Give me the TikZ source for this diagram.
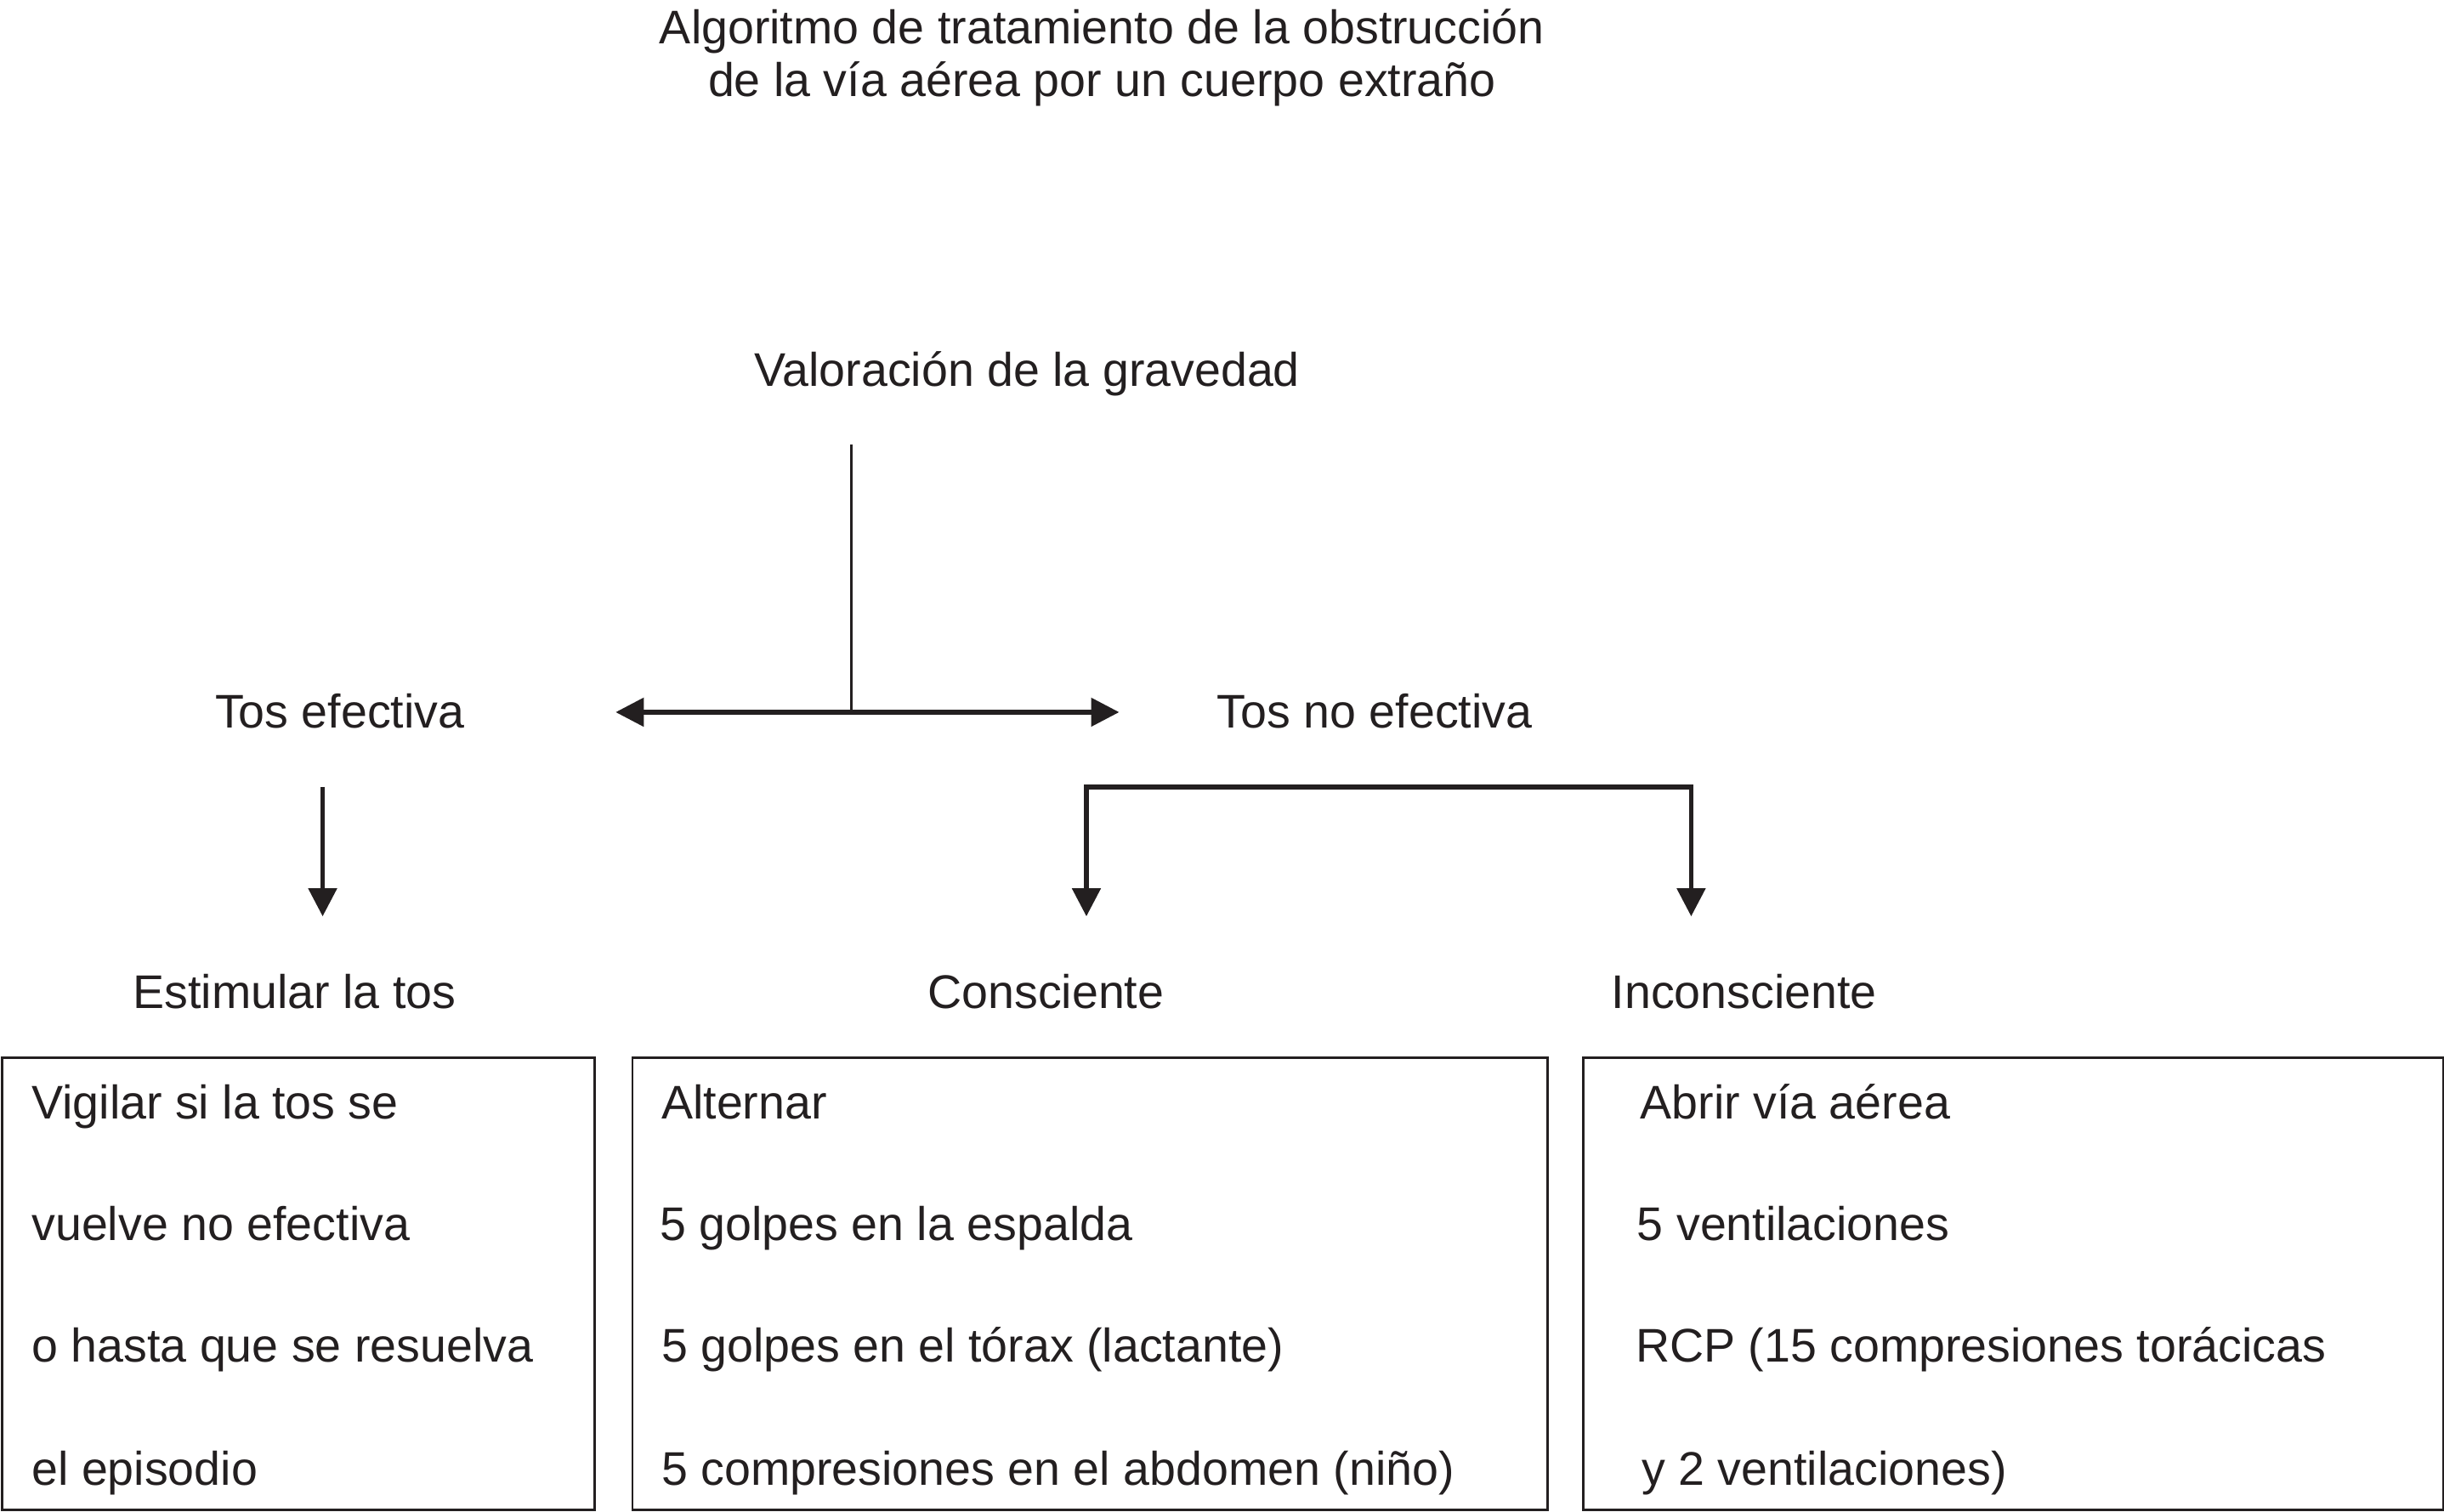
\documentclass[tikz,border=0pt]{standalone}
\usepackage{fontspec}
\setmainfont{Liberation Sans}
\usetikzlibrary{arrows.meta}
\definecolor{ink}{HTML}{231F20}
\begin{document}
\begin{tikzpicture}[x=0.5pt,y=-0.5pt,
  every node/.style={font=\fontsize{15.15pt}{18pt}\selectfont, inner sep=0pt, text=ink},
  lbl/.style={anchor=base},
  bt/.style={anchor=base west},
  tip/.style={-{Triangle[length=9pt,width=9pt]}},
  tips/.style={{Triangle[length=9pt,width=9pt]}-{Triangle[length=9pt,width=9pt]}},
  conn/.style={draw=ink, line width=1.4pt},
  thin/.style={draw=ink, line width=0.8pt},
  box/.style={draw=ink, line width=0.75pt, anchor=north west, minimum width=#1, minimum height=145pt}]
\useasboundingbox (0,0) rectangle (1568,970);

\node[lbl] (t1) at (707,28) {Algoritmo de tratamiento de la obstrucción};
\node[lbl] (t2) at (707,62) {de la vía aérea por un cuerpo extraño};
\node[lbl] (val) at (659,248) {Valoración de la gravedad};
\node[lbl] (te) at (218,467) {Tos efectiva};
\node[lbl] (tne) at (882,467) {Tos no efectiva};
\node[lbl] (est) at (189,647) {Estimular la tos};
\node[lbl] (con) at (671,647) {Consciente};
\node[lbl] (inc) at (1119,647) {Inconsciente};

\coordinate (vtop) at (546,285);
\coordinate (j) at (546,457);
\coordinate (al) at (395,457);
\coordinate (ar) at (718,457);
\coordinate (ea) at (207,505);
\coordinate (eb) at (207,588);
\coordinate (ca) at (697,588);
\coordinate (cb) at (697,505);
\coordinate (cc) at (1085,505);
\coordinate (cd) at (1085,588);

\draw[thin] (vtop) -- (j);
\draw[conn,tips] (al) -- (ar);
\draw[conn,tip] (ea) -- (eb);
\draw[conn,tips] (ca) -- (cb) -- (cc) -- (cd);

\node[box=190pt] (b1) at (0.8,678) {};
\node[box=293.5pt] (b2) at (405,678) {};
\node[box=276pt] (b3) at (1015,678) {};

\node[bt] (b1l1) at (20,718) {Vigilar si la tos se};
\node[bt] (b1l2) at (20,796) {vuelve no efectiva};
\node[bt] (b1l3) at (20,874) {o hasta que se resuelva};
\node[bt] (b1l4) at (20,953) {el episodio};

\node[bt] (b2l1) at (424,718) {Alternar};
\node[bt] (b2l2) at (423,796) {5 golpes en la espalda};
\node[bt] (b2l3) at (424,874) {5 golpes en el tórax (lactante)};
\node[bt] (b2l4) at (424,953) {5 compresiones en el abdomen (niño)};

\node[bt] (b3l1) at (1052,718) {Abrir vía aérea};
\node[bt] (b3l2) at (1050,796) {5 ventilaciones};
\node[bt] (b3l3) at (1049,874) {RCP (15 compresiones torácicas};
\node[bt] (b3l4) at (1053,953) {y 2 ventilaciones)};
\end{tikzpicture}
\end{document}
